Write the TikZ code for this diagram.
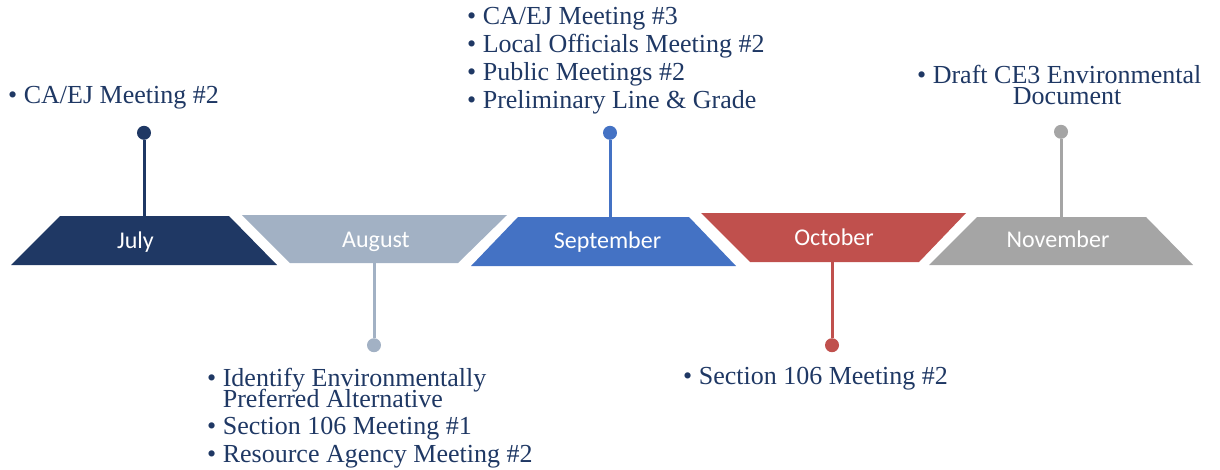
\documentclass[tikz,border=0pt]{standalone}
\usepackage{fontspec}
\usepackage{xcolor}
\setmainfont{Liberation Serif}
\newfontfamily\monthfont{Carlito}
\usetikzlibrary{positioning}

\definecolor{julyblue}{HTML}{1F3864}
\definecolor{augustgray}{HTML}{A2B1C4}
\definecolor{septblue}{HTML}{4472C4}
\definecolor{octred}{HTML}{C0504D}
\definecolor{novgray}{HTML}{A5A5A5}
\definecolor{itemblue}{HTML}{1F3864}

\begin{document}
\begin{tikzpicture}[x=1pt,y=-1pt,
  month/.style={font=\monthfont\fontsize{24}{28}\selectfont,text=white,inner sep=0pt,anchor=base},
  items/.style={font=\fontsize{26}{28}\selectfont,text=itemblue,align=left,inner sep=0pt,anchor=north west},
  stem/.style={line width=3pt},
  dot/.style={circle,inner sep=0pt,minimum size=14pt}]
  \useasboundingbox (0,0) rectangle (1220,469);
  % month bars
  \fill[julyblue] (11,265) -- (60,216) -- (229,216) -- (277,265) -- cycle;
  \fill[augustgray] (242,215) -- (507,215) -- (458,263) -- (290,263) -- cycle;
  \fill[septblue] (471,266) -- (518,217) -- (689,217) -- (736,266) -- cycle;
  \fill[octred] (701,213) -- (966,213) -- (919,262) -- (750,262) -- cycle;
  \fill[novgray] (929,265) -- (977,217) -- (1146,217) -- (1193,265) -- cycle;
  \node[month] (jul) at (135.5,248) {July};
  \node[month] (aug) at (376,247) {August};
  \node[month] (sep) at (607.5,248) {September};
  \node[month] (oct) at (834,245) {October};
  \node[month] (nov) at (1058,247) {November};
  % stems and dots
  \coordinate (jultop) at (144,216);
  \coordinate (augbot) at (374,263);
  \coordinate (septop) at (610,217);
  \coordinate (octbot) at (832,262);
  \coordinate (novtop) at (1061,217);
  \node[dot,fill=julyblue,above=76pt of jultop] (juldot) {};
  \node[dot,fill=augustgray,below=75pt of augbot] (augdot) {};
  \node[dot,fill=septblue,above=77pt of septop] (sepdot) {};
  \node[dot,fill=octred,below=76pt of octbot] (octdot) {};
  \node[dot,fill=novgray,above=78pt of novtop] (novdot) {};
  \draw[stem,julyblue] (juldot) -- (jultop);
  \draw[stem,augustgray] (augbot) -- (augdot);
  \draw[stem,septblue] (sepdot) -- (septop);
  \draw[stem,octred] (octbot) -- (octdot);
  \draw[stem,novgray] (novdot) -- (novtop);
  % meetings per month
  \node[items] (julitems) at (8,86) {\textbullet\ CA/EJ Meeting \#2};
  \node[items] (augitems) at (207,368) {\textbullet\ Identify Environmentally\\[-7pt]\hphantom{\textbullet\ }Preferred Alternative\\[-1pt]
    \textbullet\ Section 106 Meeting \#1\\
    \textbullet\ Resource Agency Meeting \#2};
  \node[items] (sepitems) at (467,7) {\textbullet\ CA/EJ Meeting \#3\\
    \textbullet\ Local Officials Meeting \#2\\
    \textbullet\ Public Meetings \#2\\
    \textbullet\ Preliminary Line \& Grade};
  \node[items] (octitems) at (683,367) {\textbullet\ Section 106 Meeting \#2};
  \node[items,align=center] (novitems) at (917,65) {\textbullet\ Draft CE3 Environmental\\[-7pt]\hphantom{\textbullet\ }Document};
\end{tikzpicture}
\end{document}
